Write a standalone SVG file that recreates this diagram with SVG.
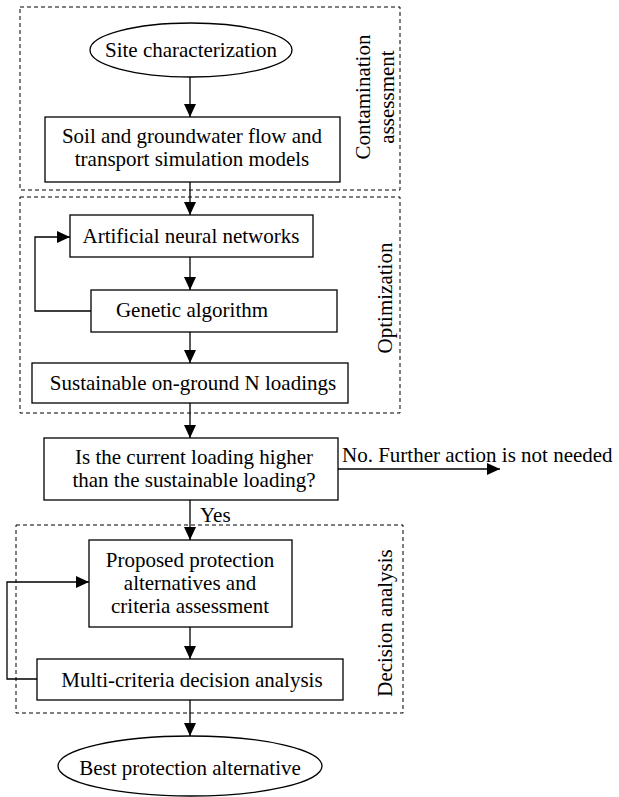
<svg xmlns="http://www.w3.org/2000/svg" width="619" height="797" viewBox="0 0 619 797">
<style>
  text { font-family: "Liberation Serif", "Times New Roman", serif; font-size: 21px; fill: #000; }
  .c { text-anchor: middle; }
  .node { fill: #fff; stroke: #000; stroke-width: 1.3; }
  .group { fill: none; stroke: #000; stroke-width: 1; stroke-dasharray: 4 3; }
  .conn { fill: none; stroke: #000; stroke-width: 1.3; }
</style>
<defs>
  <marker id="arr" markerUnits="userSpaceOnUse" markerWidth="13" markerHeight="12" refX="13" refY="6" orient="auto">
    <path d="M0,0 L13,6 L0,12 z" fill="#000"/>
  </marker>
</defs>
<rect width="619" height="797" fill="#fff"/>

<g id="group-contamination">
  <rect class="group" x="20" y="7" width="380" height="183"/>
  <text class="c" transform="translate(370,97) rotate(-90)">Contamination</text>
  <text class="c" transform="translate(394,97) rotate(-90)">assessment</text>
</g>
<g id="group-optimization">
  <rect class="group" x="20" y="197" width="380" height="216"/>
  <text class="c" transform="translate(392,298) rotate(-90)">Optimization</text>
</g>
<g id="group-decision">
  <rect class="group" x="16" y="525" width="387" height="188"/>
  <text class="c" transform="translate(392,623) rotate(-90)">Decision analysis</text>
</g>

<g id="connectors">
  <line class="conn" x1="190" y1="77" x2="190" y2="117" marker-end="url(#arr)"/>
  <line class="conn" x1="190" y1="182" x2="190" y2="215" marker-end="url(#arr)"/>
  <line class="conn" x1="190" y1="257" x2="190" y2="290" marker-end="url(#arr)"/>
  <line class="conn" x1="190" y1="332" x2="190" y2="363" marker-end="url(#arr)"/>
  <line class="conn" x1="190" y1="403" x2="190" y2="438" marker-end="url(#arr)"/>
  <line class="conn" x1="190" y1="500" x2="190" y2="540" marker-end="url(#arr)"/>
  <line class="conn" x1="190" y1="627" x2="190" y2="659" marker-end="url(#arr)"/>
  <line class="conn" x1="190" y1="700" x2="190" y2="736" marker-end="url(#arr)"/>
  <line class="conn" x1="338" y1="469" x2="500" y2="469" marker-end="url(#arr)"/>
  <polyline class="conn" points="91,311 35,311 35,237 70,237" marker-end="url(#arr)"/>
  <polyline class="conn" points="37,679 7,679 7,582 89,582" marker-end="url(#arr)"/>
  <text x="342" y="462">No. Further action is not needed</text>
  <text x="200" y="522">Yes</text>
</g>

<g id="site">
  <ellipse class="node" cx="191" cy="50" rx="101" ry="27"/>
  <text class="c" x="191" y="57">Site characterization</text>
</g>
<g id="models">
  <rect class="node" x="45" y="117" width="295" height="65"/>
  <text class="c" x="192" y="143">Soil and groundwater flow and</text>
  <text class="c" x="192" y="166">transport simulation models</text>
</g>
<g id="ann">
  <rect class="node" x="70" y="215" width="243" height="42"/>
  <text class="c" x="191" y="243">Artificial neural networks</text>
</g>
<g id="ga">
  <rect class="node" x="91" y="290" width="246" height="42"/>
  <text class="c" x="192" y="317">Genetic algorithm</text>
</g>
<g id="sustainable">
  <rect class="node" x="32" y="363" width="316" height="40"/>
  <text class="c" x="193" y="390">Sustainable on-ground N loadings</text>
</g>
<g id="question">
  <rect class="node" x="44" y="438" width="294" height="62"/>
  <text class="c" x="194" y="464">Is the current loading higher</text>
  <text class="c" x="194" y="487">than the sustainable loading?</text>
</g>
<g id="proposed">
  <rect class="node" x="89" y="540" width="203" height="87"/>
  <text class="c" x="190" y="567">Proposed protection</text>
  <text class="c" x="190" y="590">alternatives and</text>
  <text class="c" x="190" y="613">criteria assessment</text>
</g>
<g id="mcda">
  <rect class="node" x="37" y="659" width="306" height="41"/>
  <text class="c" x="192" y="687">Multi-criteria decision analysis</text>
</g>
<g id="best">
  <ellipse class="node" cx="190" cy="766" rx="132" ry="30"/>
  <text class="c" x="190" y="775">Best protection alternative</text>
</g>
</svg>
